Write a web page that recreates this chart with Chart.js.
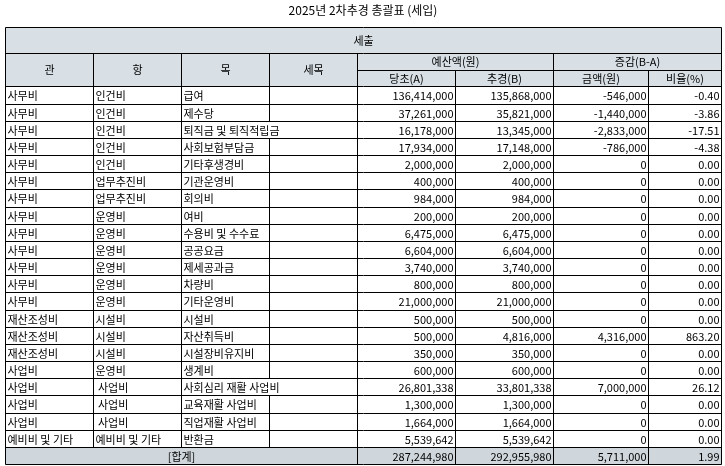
<!DOCTYPE html>
<html><head><meta charset="utf-8">
<script src="https://cdn.jsdelivr.net/npm/chart.js@4"></script>
<style>html,body{margin:0;padding:0;background:#fff}#w{width:725px;height:466px}</style>
</head><body><div id="w"><canvas id="c"></canvas></div>
<script>
const title = "2025년 2차추경 총괄표 (세입)";
const gwan = ["사무비","사무비","사무비","사무비","사무비","사무비","사무비","사무비","사무비","사무비","사무비","사무비","사무비","재산조성비","재산조성비","재산조성비","사업비","사업비","사업비","사업비","예비비 및 기타"];
const hang = ["인건비","인건비","인건비","인건비","인건비","업무추진비","업무추진비","운영비","운영비","운영비","운영비","운영비","운영비","시설비","시설비","시설비","운영비"," 사업비"," 사업비"," 사업비","예비비 및 기타"];
const mok = ["급여","제수당","퇴직금 및 퇴직적립금","사회보험부담금","기타후생경비","기관운영비","회의비","여비","수용비 및 수수료","공공요금","제세공과금","차량비","기타운영비","시설비","자산취득비","시설장비유지비","생계비","사회심리 재활 사업비","교육재활 사업비","직업재활 사업비","반환금"];
const budgetA = [136414000,37261000,16178000,17934000,2000000,400000,984000,200000,6475000,6604000,3740000,800000,21000000,500000,500000,350000,600000,26801338,1300000,1664000,5539642];
const budgetB = [135868000,35821000,13345000,17148000,2000000,400000,984000,200000,6475000,6604000,3740000,800000,21000000,500000,4816000,350000,600000,33801338,1300000,1664000,5539642];
const diffAmt = [-546000,-1440000,-2833000,-786000,0,0,0,0,0,0,0,0,0,0,4316000,0,0,7000000,0,0,0];
const ratio = [-0.40,-3.86,-17.51,-4.38,0,0,0,0,0,0,0,0,0,0,863.20,0,0,26.12,0,0,0];
const totals = [287244980,292955980,5711000,1.99];
const headers = ["세출","관","항","목","세목","예산액(원)","증감(B-A)","당초(A)","추경(B)","금액(원)","비율(%)","[합계]"];

const colEdges = [0,88,176,264,352,450,548,643,716];
const rowH = 16.45;
const nRows = gwan.length + 1;
const fmt = v => v.toLocaleString('en-US');
const FONT = '11px "Noto Sans CJK KR", "Noto Sans", sans-serif';

const tablePlugin = {
  id:'table',
  afterDraw(chart){
    const ctx = chart.ctx, xs = chart.scales.x, ys = chart.scales.y;
    const X = v => Math.round(xs.getPixelForValue(v))+0.5;
    const Y = v => Math.round(ys.getPixelForValue(v))+0.5;
    const hdrBg = '#d8e0e6', line='#000';
    ctx.save();
    ctx.font = '12px "Noto Sans CJK KR", sans-serif';
    ctx.fillStyle='#000'; ctx.textAlign='center'; ctx.textBaseline='middle';
    ctx.fillText(title, 363, 10);
    ctx.font = FONT;
    // header backgrounds
    ctx.fillStyle = hdrBg;
    ctx.fillRect(X(0),Y(0),X(716)-X(0),Y(57)-Y(0));
    const dataTop = 57;
    const rowY = i => dataTop + i*rowH;
    ctx.fillStyle='#d0d7dc';
    ctx.fillRect(X(0),Y(rowY(nRows-1)),X(716)-X(0),Y(rowY(nRows))-Y(rowY(nRows-1)));
    ctx.strokeStyle=line; ctx.lineWidth=1;
    const seg=(x1,y1,x2,y2)=>{ctx.beginPath();ctx.moveTo(x1,y1);ctx.lineTo(x2,y2);ctx.stroke();};
    // header lines
    seg(X(0),Y(0),X(716),Y(0));
    seg(X(0),Y(25),X(716),Y(25));
    seg(X(352),Y(41),X(716),Y(41));
    seg(X(0),Y(57),X(716),Y(57));
    colEdges.forEach((c,i)=>{
      if(i===0||i===8){ seg(X(c),Y(0),X(c),Y(rowY(nRows))); return; }
      if(c===450||c===643) seg(X(c),Y(41),X(c),Y(57)); else seg(X(c),Y(25),X(c),Y(57));
    });
    ctx.fillStyle='#000'; ctx.textAlign='center';
    ctx.fillText(headers[0], (X(0)+X(716))/2, (Y(0)+Y(25))/2);
    for(let k=0;k<4;k++) ctx.fillText(headers[1+k],(X(colEdges[k])+X(colEdges[k+1]))/2,(Y(25)+Y(57))/2);
    ctx.fillText(headers[5],(X(352)+X(548))/2,(Y(25)+Y(41))/2);
    ctx.fillText(headers[6],(X(548)+X(716))/2,(Y(25)+Y(41))/2);
    for(let k=0;k<4;k++) ctx.fillText(headers[7+k],(X(colEdges[4+k])+X(colEdges[5+k]))/2,(Y(41)+Y(57))/2);
    // data rows
    for(let i=0;i<gwan.length;i++){
      const y0=Y(rowY(i)), y1=Y(rowY(i+1)), ym=(y0+y1)/2+0.5;
      seg(X(0),y1,X(716),y1);
      const overflow = ctx.measureText(mok[i]).width > (X(264)-X(176)-4);
      colEdges.slice(1,8).forEach(c=>{ if(!(c===264&&overflow)) seg(X(c),y0,X(c),y1); });
      ctx.textAlign='left';
      ctx.fillText(gwan[i], X(0)+2, ym);
      ctx.fillText(hang[i], X(88)+2, ym);
      ctx.fillText(mok[i], X(176)+2, ym);
      ctx.textAlign='right';
      ctx.fillText(fmt(budgetA[i]), X(450)-2, ym);
      ctx.fillText(fmt(budgetB[i]), X(548)-2, ym);
      ctx.fillText(fmt(diffAmt[i]), X(643)-2, ym);
      ctx.fillText(ratio[i].toFixed(2), X(716)-2, ym);
    }
    const t0=Y(rowY(nRows-1)), t1=Y(rowY(nRows)), tm=(t0+t1)/2+0.5;
    seg(X(0),t1,X(716),t1);
    [352,450,548,643].forEach(c=>seg(X(c),t0,X(c),t1));
    ctx.textAlign='center'; ctx.fillText(headers[11],(X(0)+X(352))/2,tm);
    ctx.textAlign='right';
    ctx.fillText(fmt(totals[0]),X(450)-2,tm);
    ctx.fillText(fmt(totals[1]),X(548)-2,tm);
    ctx.fillText(fmt(totals[2]),X(643)-2,tm);
    ctx.fillText(totals[3].toFixed(2),X(716)-2,tm);
    ctx.restore();
  }
};

new Chart(document.getElementById('c'),{
  type:'scatter',
  data:{datasets:[{data:[],pointRadius:0}]},
  options:{
    responsive:true, maintainAspectRatio:false, animation:false,
    layout:{padding:{left:5,right:4,top:27,bottom:2}},
    plugins:{legend:{display:false},tooltip:{enabled:false}},
    scales:{
      x:{type:'linear',min:0,max:716,display:false},
      y:{type:'linear',min:0,max:57+rowH*nRows,reverse:true,display:false}
    }
  },
  plugins:[tablePlugin]
});
</script></body></html>
